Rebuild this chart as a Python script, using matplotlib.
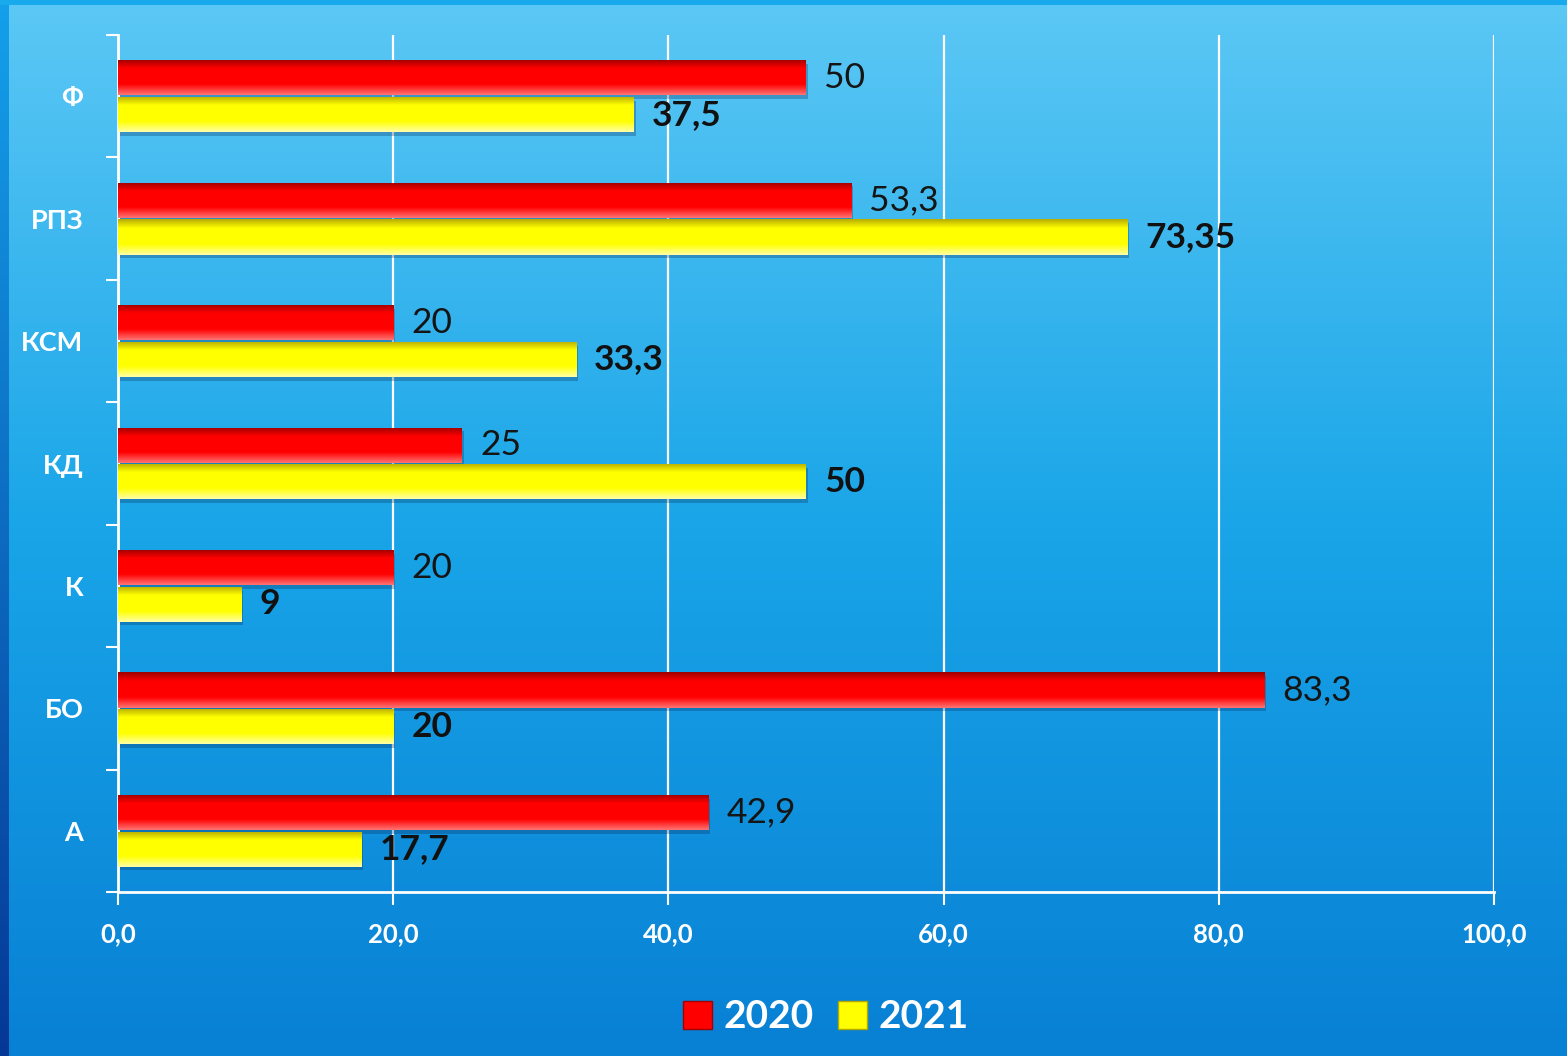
import numpy as np
import matplotlib.pyplot as plt
from matplotlib.patches import Patch

plt.rcParams['font.family'] = ['Lato', 'DejaVu Sans']

# data, bottom to top as in the chart
categories = ["А", "БО", "К", "КД", "КСМ", "РПЗ", "Ф"]
values_2020 = [42.9, 83.3, 20, 25, 20, 53.3, 50]
values_2021 = [17.7, 20, 9, 50, 33.3, 73.35, 37.5]
labels_2020 = ["42,9", "83,3", "20", "25", "20", "53,3", "50"]
labels_2021 = ["17,7", "20", "9", "50", "33,3", "73,35", "37,5"]
xticks = [0, 20, 40, 60, 80, 100]
xtick_labels = ["0,0", "20,0", "40,0", "60,0", "80,0", "100,0"]

fig = plt.figure(figsize=(15.67, 10.56), dpi=100)

# --- blue gradient background ---
H, W = 1056, 1567
top = np.array([92, 200, 245]) / 255
mid = np.array([25, 165, 232]) / 255
bot = np.array([8, 128, 212]) / 255
t = np.linspace(0, 1, H)[:, None]
col = np.where(t < 0.5, top + (mid - top) * (t / 0.5), mid + (bot - mid) * ((t - 0.5) / 0.5))
bg = np.repeat(col[:, None, :], W, axis=1)
# darker frame on the left and top
left_top = np.array([20, 160, 235]) / 255
left_bot = np.array([5, 55, 150]) / 255
bg[:, :9, :] = (left_top + (left_bot - left_top) * t)[:, None, :]
bg[:5, :, :] = np.array([25, 170, 238]) / 255
bgax = fig.add_axes([0, 0, 1, 1], zorder=-10)
bgax.imshow(bg, aspect='auto', interpolation='bilinear')
bgax.axis('off')

ax = fig.add_axes([118 / W, 1 - 892 / H, (1494 - 118) / W, (892 - 35) / H])
ax.patch.set_alpha(0)

y = np.arange(len(categories))
h = 0.286
off = 0.15


def shade(c_top, c_mid, c_bot, n=64):
    s = np.linspace(0, 1, n)[:, None]
    g = np.where(s < 0.3, c_top + (c_mid - c_top) * (s / 0.3),
                 np.where(s < 0.75, c_mid, c_mid + (c_bot - c_mid) * ((s - 0.75) / 0.25)))
    return g[:, None, :]


red_grad = shade(np.array([1.0, 0.45, 0.45]), np.array([1.0, 0.0, 0.0]), np.array([0.62, 0.0, 0.0]))
yel_grad = shade(np.array([1.0, 1.0, 0.65]), np.array([1.0, 1.0, 0.0]), np.array([0.72, 0.68, 0.0]))

bars20 = ax.barh(y + off, values_2020, height=h, color='#ff0000', zorder=3)
bars21 = ax.barh(y - off, values_2021, height=h, color='#ffff00', zorder=3)

for bars, grad in [(bars20, red_grad), (bars21, yel_grad)]:
    for b in bars:
        x0, y0 = b.get_x(), b.get_y()
        w, hh = b.get_width(), b.get_height()
        # soft shadow
        ax.barh(y0 + hh / 2 - 0.03, w, left=x0 + 0.12, height=hh, color='#0a3060', alpha=0.3, zorder=2)
        im = ax.imshow(grad, extent=(x0, x0 + w, y0 + hh, y0), aspect='auto', zorder=4,
                       interpolation='bilinear')
        im.set_clip_path(b)

for b, lab in zip(bars20, labels_2020):
    ax.annotate(lab, (b.get_width(), b.get_y() + b.get_height() / 2), xytext=(13, 0),
                textcoords='offset points', va='center', ha='left', fontsize=25.5,
                color='#151515', zorder=5)
for b, lab in zip(bars21, labels_2021):
    ax.annotate(lab, (b.get_width(), b.get_y() + b.get_height() / 2), xytext=(13, 0),
                textcoords='offset points', va='center', ha='left', fontsize=25.5,
                fontweight='bold', color='#111111', zorder=5)

ax.set_xlim(0, 100)
ax.set_ylim(-0.5, len(categories) - 0.5)

ax.set_xticks(xticks)
ax.set_xticklabels(xtick_labels, fontsize=18.5, fontweight='bold', color='white')
ax.set_yticks(np.arange(-0.5, len(categories), 1))
ax.set_yticklabels([])
ax.set_yticks(y, minor=True)
ax.set_yticklabels(categories, minor=True, fontsize=19.5, fontweight='bold', color='white')
ax.tick_params(axis='y', which='major', length=9, width=1.5, color='white', direction='out')
ax.tick_params(axis='y', which='minor', length=0, pad=25)
ax.tick_params(axis='x', length=9, width=1.5, color='white', direction='out', pad=13)

ax.grid(axis='x', color='white', linewidth=1.6, zorder=1)
ax.set_axisbelow(True)
for s in ['top', 'right']:
    ax.spines[s].set_visible(False)
for s in ['left', 'bottom']:
    ax.spines[s].set_color('white')
    ax.spines[s].set_linewidth(2)

handles = [Patch(facecolor='#ff0000', edgecolor='#a00000'),
           Patch(facecolor='#ffff00', edgecolor='#b0a800')]
leg = fig.legend(handles, ['2020', '2021'], loc='center', bbox_to_anchor=(0.527, 1 - 1017 / H),
                 ncol=2, frameon=False, fontsize=28, handlelength=0.75, handleheight=0.75,
                 handletextpad=0.3, columnspacing=0.6)
for txt in leg.get_texts():
    txt.set_color('white')
    txt.set_fontweight('bold')

fig.savefig('out.png', dpi=100)
